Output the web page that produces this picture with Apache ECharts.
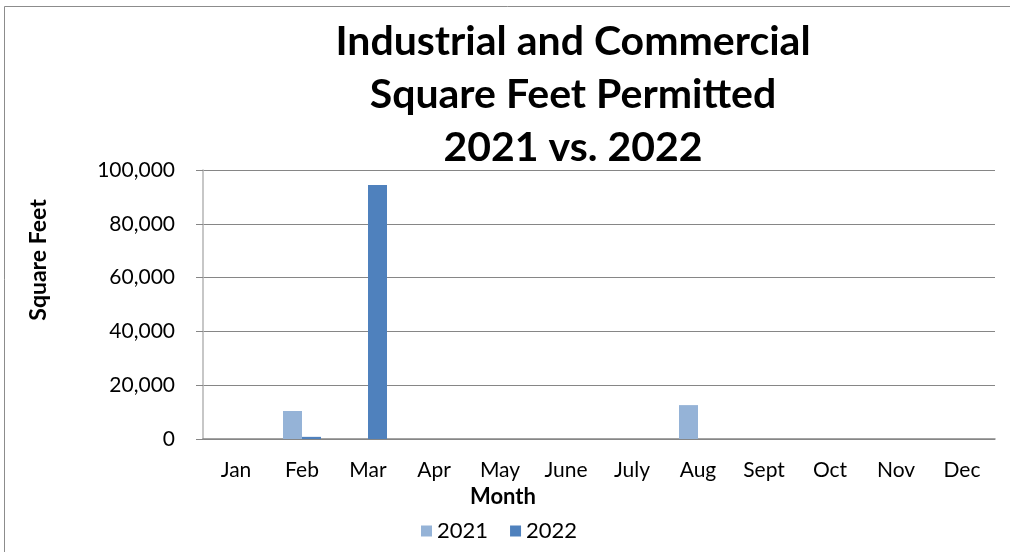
<!DOCTYPE html>
<html>
<head>
<meta charset="utf-8">
<script src="https://cdn.jsdelivr.net/npm/echarts@6/dist/echarts.min.js"></script>
<style>
html, body { margin: 0; padding: 0; background: #fff; }
#chart { width: 1010px; height: 552px; }
</style>
</head>
<body>
<div id="chart"></div>
<script>
// data
var months = ['Jan', 'Feb', 'Mar', 'Apr', 'May', 'June', 'July', 'Aug', 'Sept', 'Oct', 'Nov', 'Dec'];
var sqft2021 = [0, 10400, 0, 0, 0, 0, 0, 12600, 0, 0, 0, 0];
var sqft2022 = [0, 800, 94400, 0, 0, 0, 0, 0, 0, 0, 0, 0];
var yTicks = [0, 20000, 40000, 60000, 80000, 100000];

var font = 'Lato, "Open Sans", sans-serif';
var chart = echarts.init(document.getElementById('chart'));

var option = {
    animation: false,
    backgroundColor: '#fff',
    textStyle: { fontFamily: font },
    title: {
        text: 'Industrial and Commercial\nSquare Feet Permitted\n2021 vs. 2022',
        left: 568,
        textAlign: 'center',
        top: 10,
        textStyle: { fontFamily: font, fontSize: 41, fontWeight: 'bold', color: '#000', lineHeight: 53 }
    },
    graphic: [{
        type: 'rect',
        shape: { x: 4.5, y: 6.5, width: 1020, height: 560 },
        style: { fill: 'none', stroke: '#8c8c8c', lineWidth: 1 },
        silent: true
    }, {
        // axis titles sit off-centre in the original
        type: 'text',
        x: 39, y: 260, rotation: Math.PI / 2,
        style: { text: 'Square Feet', fontFamily: font, fontSize: 23, fontWeight: 'bold', fill: '#000', align: 'center', verticalAlign: 'middle' },
        silent: true
    }, {
        type: 'text',
        x: 503, y: 497,
        style: { text: 'Month', fontFamily: font, fontSize: 22, fontWeight: 'bold', fill: '#000', align: 'center', verticalAlign: 'middle' },
        silent: true
    }],
    legend: {
        data: ['2021', '2022'],
        top: 515,
        left: 416,
        itemWidth: 11,
        itemHeight: 11,
        itemGap: 22,
        icon: 'rect',
        textStyle: { fontFamily: font, fontSize: 22, color: '#000', padding: [0, 0, 0, 0] }
    },
    grid: { left: 203, right: 15, top: 170, bottom: 113 },
    xAxis: {
        type: 'category',
        data: months,
        axisLine: { lineStyle: { color: '#868686', width: 1.5 } },
        axisTick: { alignWithLabel: false, length: 8, lineStyle: { color: '#868686', width: 1.5 } },
        axisLabel: { fontSize: 21, color: '#000', margin: 21, fontFamily: font }
    },
    yAxis: {
        type: 'value',
        min: yTicks[0],
        max: yTicks[yTicks.length - 1],
        interval: yTicks[1] - yTicks[0],
        axisLine: { show: true, lineStyle: { color: '#b4b4b4', width: 1.5 } },
        axisTick: { show: true, length: 7, lineStyle: { color: '#868686' } },
        splitLine: { lineStyle: { color: '#868686', width: 1 } },
        axisLabel: {
            fontSize: 21, color: '#000', margin: 28, fontFamily: font,
            formatter: function (v) { return v.toLocaleString('en-US'); }
        }
    },
    series: [{
        name: '2021',
        type: 'bar',
        data: sqft2021,
        barWidth: 19,
        barGap: '0%',
        itemStyle: { color: '#95b3d7' }
    }, {
        name: '2022',
        type: 'bar',
        data: sqft2022,
        barWidth: 19,
        itemStyle: { color: '#4f81bd' }
    }]
};
chart.setOption(option);
</script>
</body>
</html>
